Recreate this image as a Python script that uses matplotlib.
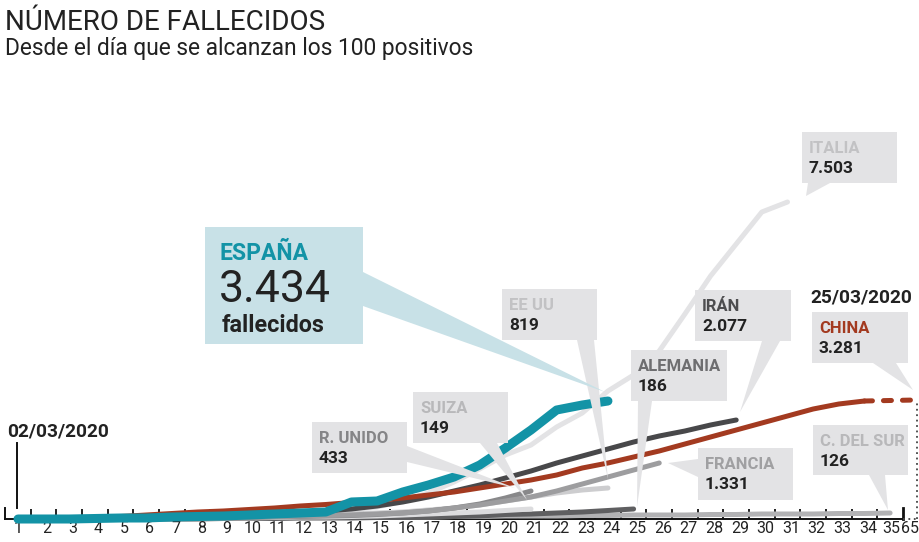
import matplotlib
matplotlib.use("Agg")
import matplotlib.pyplot as plt
from matplotlib.patches import Rectangle, Polygon

plt.rcParams['font.family'] = ['Roboto', 'DejaVu Sans']

# Fallecidos por día desde los 100 positivos
espana = [0, 0, 0, 14, 28, 28, 56, 70, 84, 112, 140, 168, 196, 476, 504, 756,
          952, 1176, 1512, 1988, 2492, 3052, 3192, 3304]
china = [0, 14, 28, 42, 70, 112, 154, 196, 224, 266, 308, 364, 406, 462, 518,
         588, 672, 756, 868, 980, 1092, 1232, 1428, 1568, 1736, 1904, 2100,
         2296, 2492, 2688, 2884, 3080, 3220, 3304]
china_dia65 = 3332
italia = [0, 0, 14, 28, 28, 42, 56, 70, 84, 112, 140, 168, 196, 252, 336, 504,
          728, 1036, 1400, 1792, 2072, 2576, 2968, 3584, 4032, 4704, 5740,
          6804, 7700, 8596, 8876]
iran = [0, 0, 14, 28, 28, 42, 56, 70, 84, 112, 140, 168, 224, 280, 364, 476,
        616, 784, 952, 1148, 1344, 1568, 1764, 1960, 2156, 2324, 2464, 2632,
        2772]
francia = [0, 0, 0, 0, 14, 14, 28, 28, 42, 56, 70, 84, 98, 112, 140, 168, 224,
           308, 392, 504, 616, 784, 980, 1176, 1372, 1568]
reino_unido = [0, 0, 0, 0, 0, 14, 14, 28, 28, 42, 56, 70, 84, 98, 126, 168, 224,
               308, 420, 588, 784]
eeuu = [0, 0, 0, 0, 14, 14, 28, 28, 42, 56, 70, 84, 112, 140, 168, 196, 252,
        308, 392, 504, 616, 728, 812, 868]
suiza = [0, 0, 0, 0, 0, 0, 14, 14, 28, 28, 42, 56, 56, 70, 84, 112, 140, 168,
         196, 238, 280]
alemania = [0, 0, 0, 0, 0, 0, 0, 0, 14, 14, 14, 28, 28, 28, 42, 42, 56, 70, 84,
            126, 140, 168, 196, 238, 280]
corea = [0, 0, 0, 0, 0, 14, 14, 14, 28, 28, 28, 42, 42, 42, 56, 56, 56, 70, 70,
         84, 84, 84, 98, 98, 112, 112, 112, 126, 126, 140, 140, 140, 154, 154,
         168]

tick_labels = [str(i) for i in range(1, 36)] + ['65']

# (nombre, valor, color del nombre, caja x/y/w/h en px, puntero)
callouts = [
    ('EE UU', '819', '#c2c2c4', (502, 289, 95, 51), [(577, 340), (594, 340), (608, 479)]),
    ('SUIZA', '149', '#b8b8ba', (413, 392, 95, 51), [(480, 443), (497, 443), (527, 500)]),
    ('R. UNIDO', '433', '#858587', (312, 422, 95, 51), [(407, 446), (407, 462), (515, 488)]),
    ('ALEMANIA', '186', '#6e6e70', (631, 350, 96, 51), [(638, 401), (652, 401), (637, 507)]),
    ('IRÁN', '2.077', '#4d4d4f', (695, 290, 96, 51), [(762, 341), (780, 341), (740, 412)]),
    ('CHINA', '3.281', '#a33a20', (812, 312, 96, 51), [(873, 363), (896, 363), (913, 390)]),
    ('FRANCIA', '1.331', '#a0a0a2', (698, 448, 95, 52), [(698, 459), (698, 477), (668, 463)]),
    ('C. DEL SUR', '126', '#b8b8ba', (813, 425, 95, 50), [(869, 475), (885, 475), (888, 510)]),
    ('ITALIA', '7.503', '#c2c2c4', (802, 132, 95, 51), [(808, 183), (830, 183), (806, 196)]),
]

S = 28.0      # fallecidos por píxel
DX = 25.65    # píxeles por día
X0 = 18.0     # píxel del día 1
BASE = 519.0  # píxel de la línea base

fig = plt.figure(figsize=(9.2, 5.42), dpi=100)
ax = fig.add_axes([0, 0, 1, 1])
ax.set_xlim(1 - X0 / DX, 1 + (920 - X0) / DX)
ax.set_ylim(-(542 - BASE) * S, BASE * S)
ax.axis('off')

ov = fig.add_axes([0, 0, 1, 1], zorder=5)
ov.set_xlim(0, 920)
ov.set_ylim(542, 0)
ov.axis('off')
ov.patch.set_alpha(0)

def days(v):
    return list(range(1, len(v) + 1))

series = [
    (italia, '#e3e3e5', 3.6),
    (corea, '#b2b2b4', 3.6),
    (alemania, '#5f5f61', 3.6),
    (suiza, '#dcdcde', 3.6),
    (eeuu, '#cdcdcf', 3.6),
    (reino_unido, '#88888a', 3.6),
    (francia, '#9d9d9f', 3.6),
    (iran, '#48484a', 3.6),
    (china, '#a33a20', 3.6),
]
for vals, col, lw in series:
    ax.plot(days(vals), vals, color=col, lw=lw, solid_capstyle='round',
            solid_joinstyle='round', zorder=3)

ax.plot([len(china), 36], [china[-1], china_dia65], color='#a33a20', lw=3.6,
        dash_capstyle='round', linestyle=(0, (1.6, 2.2)), zorder=3)
ax.plot(days(espana), espana, color='#1393a6', lw=6.5, solid_capstyle='round',
        solid_joinstyle='round', zorder=4)

# eje
ax.plot([0.5, 35.5], [0, 0], color='#111111', lw=1.4, zorder=1)
ax.plot([0.5, 0.5], [0, 11 * S], color='#111111', lw=1.4, zorder=1)
ax.vlines([i + 0.5 for i in range(1, 35)], 0, 10 * S, color='#111111', lw=1.3, zorder=1)
ax.plot([35.5, 35.5], [0, 11 * S], color='#111111', lw=2, zorder=1)
ax.plot([35.5, 36.1], [0, 0], color='#444444', lw=1.3, linestyle=(0, (1, 2)), zorder=1)
ax.plot([36.05, 36.05], [0, china_dia65 - 3 * S], color='#444444', lw=1.3,
        linestyle=(0, (1, 2)), zorder=1)

for i, lab in enumerate(tick_labels):
    x = i + 1
    ha = 'center'
    if i == 0:
        off = 0
    elif i == 35:
        off = 0.13
        ha = 'right'
    elif i == 34:
        off = 0.05
    else:
        off = 0.14
    ax.text(x + off, -9.5 * S, lab, ha=ha, va='center', fontsize=11.5,
            color='#222222')

# fecha inicial
ov.plot([17, 17], [443, 508], color='#111111', lw=1.4)
ov.text(7, 437, '02/03/2020', fontsize=13.8, fontweight='bold', color='#222222',
        va='baseline')
ov.text(810, 302, '25/03/2020', fontsize=13.8, fontweight='bold', color='#222222',
        va='baseline')

# títulos
ov.text(5, 30, 'NÚMERO DE FALLECIDOS', fontsize=20, color='#222222', va='baseline')
ov.text(5, 55, 'Desde el día que se alcanzan los 100 positivos', fontsize=16.4,
        color='#222222', va='baseline')

# cajas de países
for name, val, ncol, (bx, by, bw, bh), tip in callouts:
    ov.add_patch(Polygon(tip, closed=True, facecolor='#e3e3e5', edgecolor='none',
                         zorder=1))
    ov.add_patch(Rectangle((bx, by), bw, bh, facecolor='#e3e3e5', edgecolor='none',
                           zorder=2))
    ov.text(bx + 7, by + 21, name, fontsize=12, fontweight='bold', color=ncol,
            va='baseline', zorder=3)
    ov.text(bx + 7, by + 41, val, fontsize=12.5, fontweight='bold', color='#222222',
            va='baseline', zorder=3)

# España
ov.add_patch(Polygon([(363, 272), (363, 306), (605, 392)], closed=True,
                     facecolor='#c8e1e7', edgecolor='none', zorder=1))
ov.add_patch(Rectangle((205, 227), 158, 117, facecolor='#c8e1e7', edgecolor='none',
                       zorder=2))
ov.text(220, 260, 'ESPAÑA', fontsize=16.5, fontweight='bold', color='#1393a6',
        va='baseline', zorder=3)
ov.text(219, 302, '3.434', fontsize=32, fontweight='normal', color='#222222',
        va='baseline', zorder=3)
ov.text(222, 332, 'fallecidos', fontsize=16.8, fontweight='bold', color='#222222',
        va='baseline', zorder=3)

fig.savefig('out.png', dpi=100)
